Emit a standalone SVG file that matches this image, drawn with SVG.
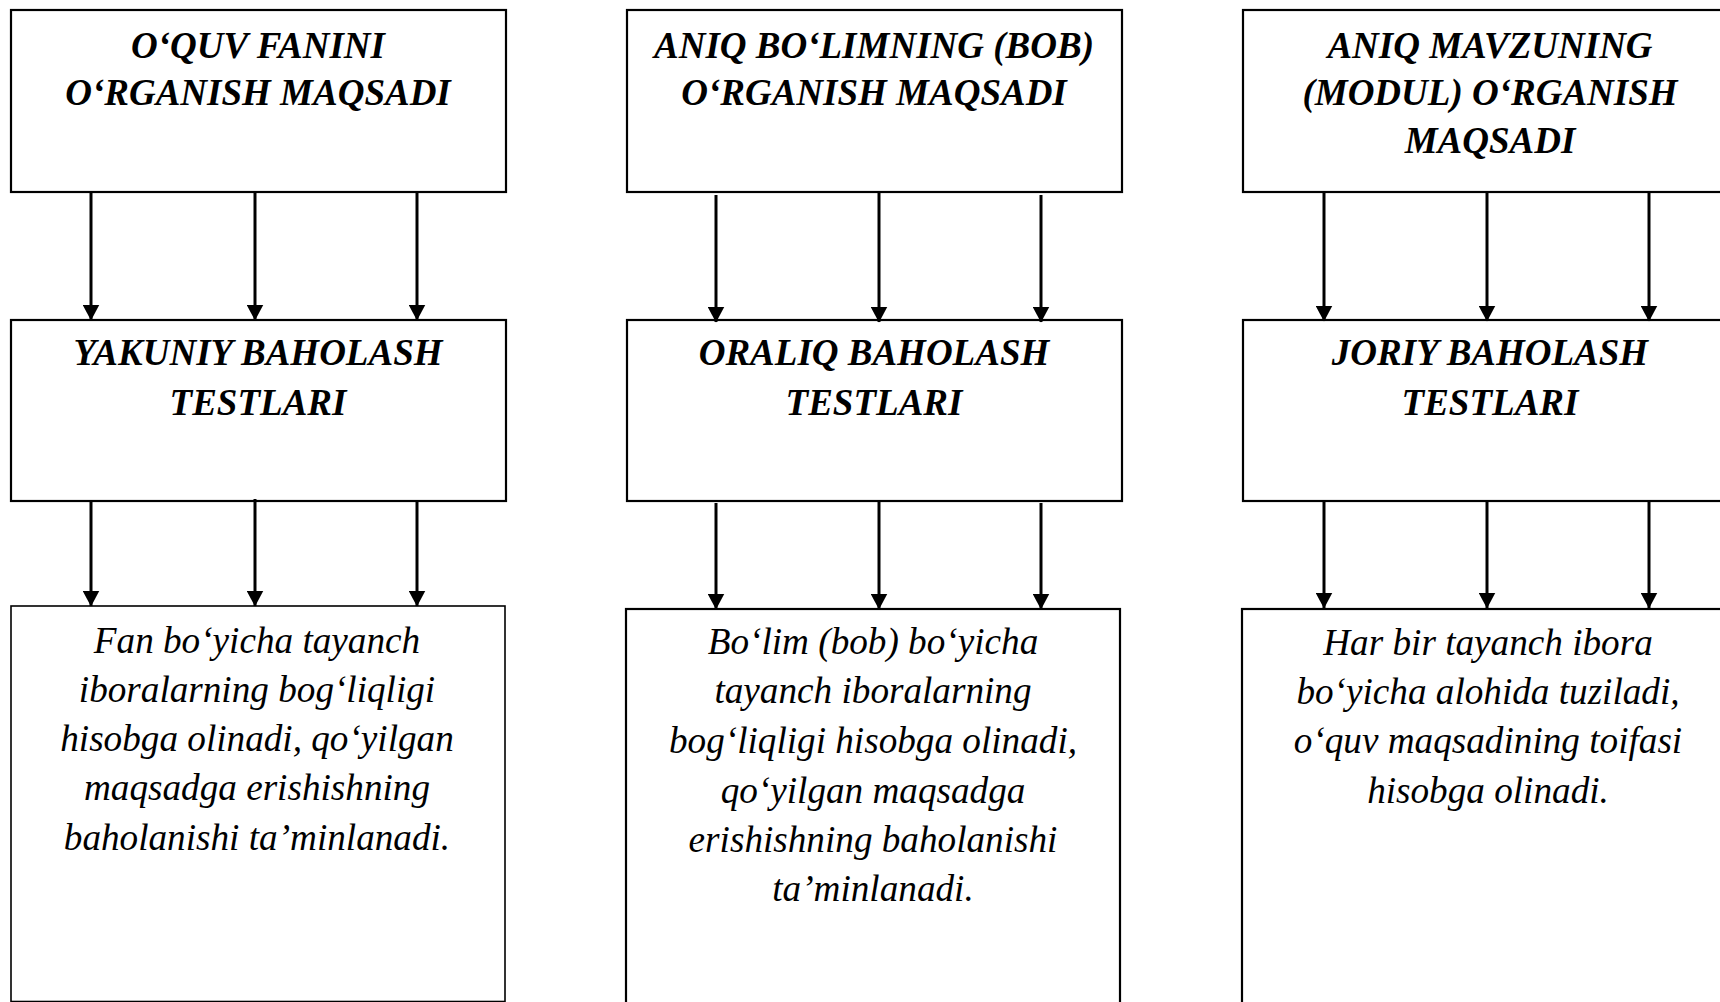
<svg xmlns="http://www.w3.org/2000/svg" width="1720" height="1002" viewBox="0 0 1720 1002">
<defs>
<marker id="ah" viewBox="0 0 16 17" markerWidth="16" markerHeight="17" refX="15.5" refY="8.5" orient="auto" markerUnits="userSpaceOnUse">
<path d="M0,0 L16,8.5 L0,17 Z" fill="#000"/>
</marker>
<style>
.box{fill:#fff;stroke:#000;stroke-width:2.2}
.h{font-family:"Liberation Serif","Times New Roman",serif;font-weight:bold;font-style:italic;font-size:37px;text-anchor:middle;fill:#000}
.b{font-family:"Liberation Serif","Times New Roman",serif;font-style:italic;font-size:37.2px;text-anchor:middle;fill:#000}
.c{stroke:#000;stroke-width:3;fill:none;marker-end:url(#ah)}
</style>
</defs>
<rect width="1720" height="1002" fill="#fff"/>
<g id="n1a"><rect class="box" x="11" y="10" width="495" height="182"/>
<text class="h"><tspan x="258" y="58">O‘QUV FANINI</tspan><tspan x="258" y="105">O‘RGANISH MAQSADI</tspan></text></g>
<g id="n2a"><rect class="box" x="627" y="10" width="495" height="182"/>
<text class="h"><tspan x="874" y="58">ANIQ BO‘LIMNING (BOB)</tspan><tspan x="874" y="105">O‘RGANISH MAQSADI</tspan></text></g>
<g id="n3a"><rect class="box" x="1243" y="10" width="495" height="182"/>
<text class="h"><tspan x="1490" y="58">ANIQ MAVZUNING</tspan><tspan x="1490" y="105">(MODUL) O‘RGANISH</tspan><tspan x="1490" y="153">MAQSADI</tspan></text></g>
<g id="n1b"><rect class="box" x="11" y="320" width="495" height="181"/>
<text class="h"><tspan x="258" y="365">YAKUNIY BAHOLASH</tspan><tspan x="258" y="415">TESTLARI</tspan></text></g>
<g id="n2b"><rect class="box" x="627" y="320" width="495" height="181"/>
<text class="h"><tspan x="874" y="365">ORALIQ BAHOLASH</tspan><tspan x="874" y="415">TESTLARI</tspan></text></g>
<g id="n3b"><rect class="box" x="1243" y="320" width="495" height="181"/>
<text class="h"><tspan x="1490" y="365">JORIY BAHOLASH</tspan><tspan x="1490" y="415">TESTLARI</tspan></text></g>
<g id="n1c"><rect class="box" x="11" y="606" width="494" height="395.5" style="stroke-width:1.6"/>
<text class="b"><tspan x="257" y="653">Fan bo‘yicha tayanch</tspan><tspan x="257" y="702">iboralarning bog‘liqligi</tspan><tspan x="257" y="751">hisobga olinadi, qo‘yilgan</tspan><tspan x="257" y="800">maqsadga erishishning</tspan><tspan x="257" y="850">baholanishi ta’minlanadi.</tspan></text></g>
<g id="n2c"><rect class="box" x="626" y="609" width="494" height="410"/>
<text class="b"><tspan x="873" y="654">Bo‘lim (bob) bo‘yicha</tspan><tspan x="873" y="703">tayanch iboralarning</tspan><tspan x="873" y="753">bog‘liqligi hisobga olinadi,</tspan><tspan x="873" y="803">qo‘yilgan maqsadga</tspan><tspan x="873" y="852">erishishning baholanishi</tspan><tspan x="873" y="901">ta’minlanadi.</tspan></text></g>
<g id="n3c"><rect class="box" x="1242" y="609" width="494" height="410"/>
<text class="b"><tspan x="1488" y="655">Har bir tayanch ibora</tspan><tspan x="1488" y="704">bo‘yicha alohida tuziladi,</tspan><tspan x="1488" y="753">o‘quv maqsadining toifasi</tspan><tspan x="1488" y="803">hisobga olinadi.</tspan></text></g>
<g id="connectors">
<line class="c" x1="91" y1="192" x2="91" y2="320"/>
<line class="c" x1="255" y1="192" x2="255" y2="320"/>
<line class="c" x1="417" y1="192" x2="417" y2="320"/>
<line class="c" x1="716" y1="195" x2="716" y2="322"/>
<line class="c" x1="879" y1="193" x2="879" y2="322"/>
<line class="c" x1="1041" y1="195" x2="1041" y2="322"/>
<line class="c" x1="1324" y1="192" x2="1324" y2="321"/>
<line class="c" x1="1487" y1="193" x2="1487" y2="321"/>
<line class="c" x1="1649" y1="192" x2="1649" y2="321"/>
<line class="c" x1="91" y1="501" x2="91" y2="606"/>
<line class="c" x1="255" y1="499" x2="255" y2="606"/>
<line class="c" x1="417" y1="501" x2="417" y2="606"/>
<line class="c" x1="716" y1="503" x2="716" y2="609"/>
<line class="c" x1="879" y1="501" x2="879" y2="609"/>
<line class="c" x1="1041" y1="503" x2="1041" y2="609"/>
<line class="c" x1="1324" y1="501" x2="1324" y2="608"/>
<line class="c" x1="1487" y1="501" x2="1487" y2="608"/>
<line class="c" x1="1649" y1="501" x2="1649" y2="608"/>
</g>
</svg>
